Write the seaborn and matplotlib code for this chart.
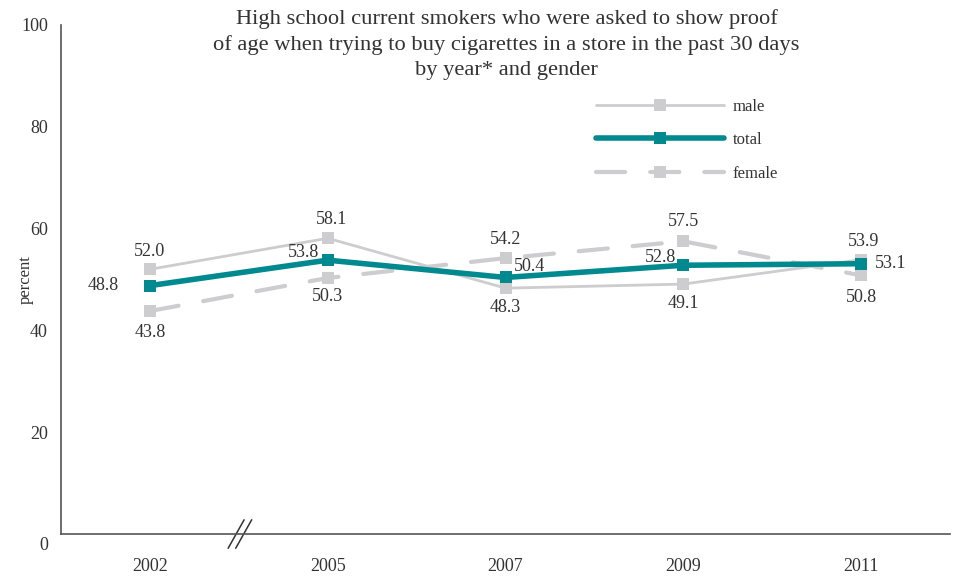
import matplotlib
matplotlib.use("Agg")
import matplotlib.pyplot as plt
import matplotlib.transforms as mtransforms
import seaborn as sns
import pandas as pd

years = ["2002", "2005", "2007", "2009", "2011"]
male = [52.0, 58.1, 48.3, 49.1, 53.9]
total = [48.8, 53.8, 50.4, 52.8, 53.1]
female = [43.8, 50.3, 54.2, 57.5, 50.8]
yticks = [0, 20, 40, 60, 80, 100]

GRAY = "#cdcdcf"
TEAL = "#008a90"
TXT = "#333333"

sns.set_style("white")
plt.rcParams["font.family"] = ["Liberation Serif", "DejaVu Serif"]

fig = plt.figure(figsize=(9.56, 5.77), dpi=100)
ax = fig.add_axes([0.0638, 0.0745, 0.93, 0.8822])

pos = list(range(len(years)))
df = pd.DataFrame({"pos": pos, "male": male, "total": total, "female": female})

sns.lineplot(data=df, x="pos", y="male", ax=ax, color=GRAY, lw=2, marker="s",
             markersize=9, markeredgewidth=0, label="male", zorder=2)
sns.lineplot(data=df, x="pos", y="female", ax=ax, color=GRAY, lw=3, marker="s",
             markersize=9, markeredgewidth=0, label="female", zorder=3,
             dashes=False)
ax.lines[-1].set_dashes([7, 6])
sns.lineplot(data=df, x="pos", y="total", ax=ax, color=TEAL, lw=4, marker="s",
             markersize=8.2, markeredgewidth=0, label="total", zorder=4)
for ln in ax.lines:
    ln.set_solid_capstyle("round")
    ln.set_dash_capstyle("round")

# data labels (offsets in pixels)
offs_male = [(0, 18), (4, 19), (0, -19), (0, -19), (2, 18)]
offs_total = [(-47, 0), (-24, 8), (24, 11), (-23, 8), (29, 0)]
offs_female = [(0, -21), (0, -19), (0, 19), (0, 20), (0, -22)]
for series, offs in ((male, offs_male), (total, offs_total), (female, offs_female)):
    for p, v, (dx, dy) in zip(pos, series, offs):
        ax.annotate(f"{v:.1f}", (p, v), xytext=(dx, dy), textcoords="offset pixels",
                    ha="center", va="center", fontsize=13, color=TXT, zorder=6)

ax.set_xlim(-0.5, 4.5)
ax.set_ylim(0, 100)
ax.set_xticks(pos)
ax.set_xticklabels(years)
ax.set_yticks(yticks)
ax.set_yticklabels([str(t) for t in yticks])
ax.set_xlabel("")
ax.set_ylabel("percent", fontsize=12, color=TXT)
ax.yaxis.set_label_coords(-0.031, 0.5)

for s in ("top", "right"):
    ax.spines[s].set_visible(False)
for s in ("left", "bottom"):
    ax.spines[s].set_color("#555555")
    ax.spines[s].set_linewidth(1.2)

ax.tick_params(axis="y", direction="in", length=16, width=1.2, color="#333333",
               labelsize=13, labelcolor=TXT, pad=9.5)
ax.tick_params(axis="x", direction="in", length=9, width=1.0, color="#333333",
               labelsize=13, labelcolor=TXT, pad=17)
# lower the "0" label slightly
lbl0 = ax.get_yticklabels()[0]
lbl0.set_transform(lbl0.get_transform() + mtransforms.ScaledTranslation(0, -9 / 100, fig.dpi_scale_trans))

# axis break marks
kw = dict(transform=ax.transAxes, color="#333333", lw=1.1, clip_on=False)
for dx in (0, 0.0085):
    ax.plot([0.188 + dx, 0.206 + dx], [-0.028, 0.028], **kw)

fig.text(0.530, 1 - 9 / 577,
         "High school current smokers who were asked to show proof\n"
         "of age when trying to buy cigarettes in a store in the past 30 days\n"
         "by year* and gender", fontsize=16.2, color=TXT, linespacing=1.42,
         ha="center", va="top")

handles, labels = ax.get_legend_handles_labels()
order = [labels.index("male"), labels.index("total"), labels.index("female")]
leg = ax.legend([handles[i] for i in order], [labels[i] for i in order],
                loc="upper left", bbox_to_anchor=(0.585, 0.885), frameon=False,
                fontsize=12, handlelength=7.7, handletextpad=0.5,
                labelspacing=1.05, numpoints=1, labelcolor=TXT)

fig.savefig("out.png", dpi=100)
